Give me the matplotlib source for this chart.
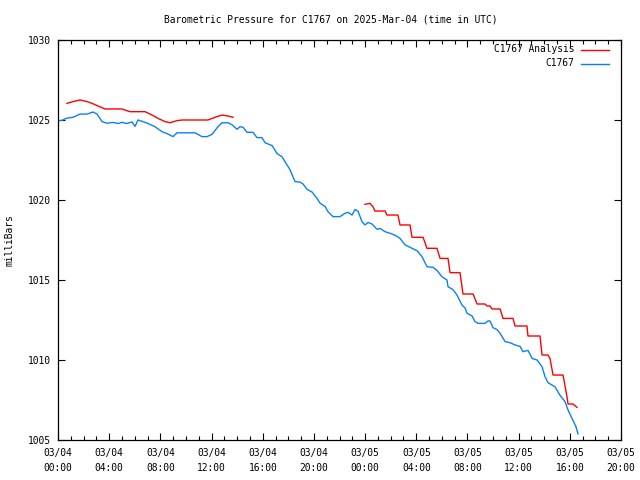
import matplotlib
matplotlib.use("Agg")
import matplotlib.pyplot as plt
from matplotlib.ticker import MultipleLocator, FixedLocator, FixedFormatter
from matplotlib.lines import Line2D

# ---- data (hours since 2025-03-04 00:00 UTC, millibars) ----
station_hours = [0.00, 0.31, 0.63, 1.17, 1.72, 2.27, 2.74, 3.05, 3.44, 3.83, 4.30, 4.69, 5.00,
                 5.39, 5.78, 6.02, 6.25, 6.64, 7.03, 7.58, 8.13, 8.52, 8.99, 9.30, 9.77, 10.32,
                 10.71, 11.25, 11.64, 12.04, 12.50, 12.82, 13.29, 13.60, 13.99, 14.22, 14.46,
                 14.77, 15.24, 15.55, 15.94, 16.18, 16.73, 17.12, 17.51, 17.90, 18.13, 18.52,
                 18.91, 19.15, 19.46, 19.85, 20.24, 20.48, 20.87, 21.10, 21.49, 22.04, 22.43,
                 22.67, 22.98, 23.21, 23.45, 23.76, 23.99, 24.23, 24.54, 24.93, 25.17, 25.56,
                 25.95, 26.34, 26.73, 27.12, 27.67, 28.06, 28.45, 28.84, 29.31, 29.62, 30.01,
                 30.40, 30.48, 30.87, 31.18, 31.57, 31.81, 31.97, 32.36, 32.59, 32.83, 33.37,
                 33.61, 33.76, 34.00, 34.31, 34.55, 34.94, 35.33, 35.72, 36.11, 36.34, 36.73,
                 37.05, 37.44, 37.83, 38.06, 38.30, 38.84, 39.23, 39.62, 39.86, 40.17, 40.48,
                 40.64]
station_mb = [1024.95, 1024.98, 1025.10, 1025.17, 1025.37, 1025.37, 1025.50, 1025.37, 1024.90,
              1024.80, 1024.85, 1024.78, 1024.85, 1024.78, 1024.88, 1024.60, 1025.00, 1024.90,
              1024.78, 1024.58, 1024.27, 1024.15, 1023.96, 1024.20, 1024.20, 1024.20, 1024.20,
              1023.96, 1023.96, 1024.10, 1024.58, 1024.83, 1024.83, 1024.70, 1024.42, 1024.58,
              1024.55, 1024.23, 1024.23, 1023.90, 1023.90, 1023.58, 1023.40, 1022.90, 1022.70,
              1022.19, 1021.90, 1021.15, 1021.12, 1021.00, 1020.67, 1020.50, 1020.10, 1019.80,
              1019.60, 1019.27, 1018.96, 1018.96, 1019.17, 1019.23, 1019.06, 1019.40, 1019.30,
              1018.64, 1018.44, 1018.60, 1018.50, 1018.17, 1018.22, 1018.02, 1017.92, 1017.80,
              1017.60, 1017.20, 1016.98, 1016.83, 1016.46, 1015.83, 1015.79, 1015.60, 1015.20,
              1015.00, 1014.58, 1014.40, 1014.06, 1013.44, 1013.25, 1012.92, 1012.75, 1012.40,
              1012.29, 1012.29, 1012.44, 1012.44, 1012.02, 1011.90, 1011.67, 1011.15, 1011.08,
              1010.94, 1010.85, 1010.52, 1010.60, 1010.10, 1010.00, 1009.58, 1008.96, 1008.58,
              1008.33, 1007.80, 1007.40, 1006.88, 1006.35, 1005.83, 1005.38]

analysis1_hours = [0.70, 1.17, 1.72, 2.27, 2.66, 3.13, 3.67, 4.22, 5.00, 5.24, 5.63, 6.80, 7.35,
                   7.82, 8.36, 8.75, 9.30, 9.69, 11.72, 12.27, 12.82, 13.29, 13.68]
analysis1_mb = [1026.04, 1026.15, 1026.25, 1026.15, 1026.04, 1025.875, 1025.69, 1025.69, 1025.69,
                1025.62, 1025.52, 1025.52, 1025.31, 1025.10, 1024.90, 1024.83, 1024.96, 1025.00,
                1025.00, 1025.17, 1025.31, 1025.25, 1025.17]

analysis2_hours = [23.99, 24.38, 24.62, 24.77, 25.56, 25.71, 26.57, 26.73, 27.51, 27.67, 28.53,
                   28.84, 29.62, 29.86, 30.48, 30.64, 31.42, 31.65, 32.44, 32.75, 33.37, 33.53,
                   33.76, 33.92, 34.55, 34.78, 35.56, 35.72, 36.65, 36.73, 37.67, 37.83, 38.30,
                   38.45, 38.69, 39.47, 39.78, 39.86, 40.25, 40.56]
analysis2_mb = [1019.73, 1019.79, 1019.58, 1019.31, 1019.31, 1019.06, 1019.06, 1018.44, 1018.44,
                1017.67, 1017.67, 1016.98, 1016.98, 1016.35, 1016.35, 1015.46, 1015.46, 1014.125,
                1014.125, 1013.50, 1013.50, 1013.375, 1013.375, 1013.19, 1013.19, 1012.60,
                1012.60, 1012.125, 1012.125, 1011.50, 1011.50, 1010.31, 1010.31, 1010.10,
                1009.06, 1009.06, 1007.70, 1007.25, 1007.25, 1007.04]

x_tick_hours = [0, 4, 8, 12, 16, 20, 24, 28, 32, 36, 40, 44]
x_tick_labels = ["03/04\n00:00", "03/04\n04:00", "03/04\n08:00", "03/04\n12:00",
                 "03/04\n16:00", "03/04\n20:00", "03/05\n00:00", "03/05\n04:00",
                 "03/05\n08:00", "03/05\n12:00", "03/05\n16:00", "03/05\n20:00"]
y_ticks = [1005, 1010, 1015, 1020, 1025, 1030]

title = "Barometric Pressure for C1767 on 2025-Mar-04 (time in UTC)"
ylabel = "milliBars"
label_analysis = "C1767 Analysis"
label_station = "C1767"

RED = "#ff0000"
BLUE = "#0a80f5"

plt.rcParams['font.family'] = ['DejaVu Sans Mono']
FS = 6.9

W, H = 640, 480
fig = plt.figure(figsize=(6.4, 4.8), dpi=100)
ax = fig.add_axes([58 / W, 1 - 440 / H, (621 - 58) / W, 400 / H])

ax.plot(analysis1_hours, analysis1_mb, color=RED, lw=1.0)
ax.plot(analysis2_hours, analysis2_mb, color=RED, lw=1.0)
ax.plot(station_hours, station_mb, color=BLUE, lw=1.0)

ax.set_xlim(0, 44)
ax.set_ylim(1005, 1030)
ax.xaxis.set_major_locator(FixedLocator(x_tick_hours))
ax.xaxis.set_major_formatter(FixedFormatter(x_tick_labels))
ax.xaxis.set_minor_locator(MultipleLocator(1))
ax.set_yticks(y_ticks)
ax.set_yticklabels([str(v) for v in y_ticks])

ax.tick_params(axis='both', which='both', direction='in', top=True, right=True,
               labelsize=FS, colors='black', width=0.8)
ax.tick_params(axis='x', which='major', length=5, pad=5.5)
ax.tick_params(axis='x', which='minor', length=3)
ax.tick_params(axis='y', which='major', length=5, pad=5)
for lbl in ax.get_xticklabels():
    lbl.set_linespacing(1.7)
for s in ax.spines.values():
    s.set_linewidth(0.9)

fig.text(331 / W, 1 - 19.5 / H, title, ha='center', va='center', fontsize=FS)
fig.text(10 / W, 1 - 240 / H, ylabel, ha='center', va='center', rotation=90, fontsize=FS)

# legend (manual, right aligned like gnuplot)
for i, (lab, col) in enumerate([(label_analysis, RED), (label_station, BLUE)]):
    yy = 1 - (49.5 + 14 * i) / H
    fig.text(574 / W, yy, lab, ha='right', va='center', fontsize=FS)
    fig.add_artist(Line2D([581 / W, 609 / W], [yy, yy], color=col, lw=1.0,
                          transform=fig.transFigure))

fig.savefig("out.png", dpi=100)
